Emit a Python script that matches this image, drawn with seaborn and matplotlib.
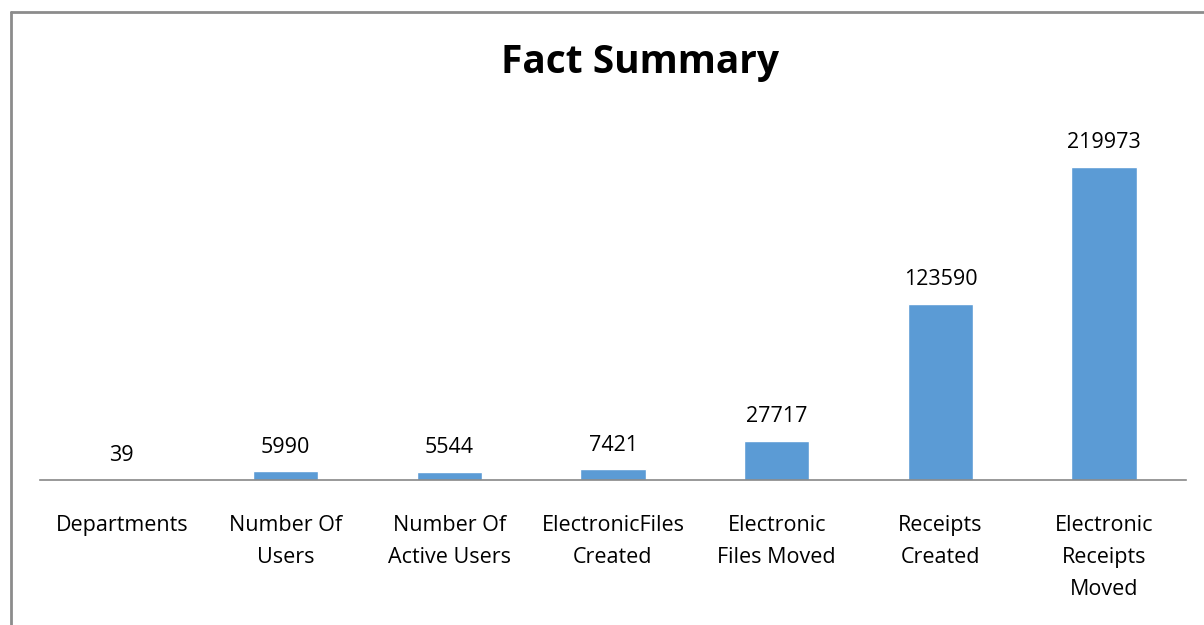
import matplotlib
matplotlib.use("Agg")
import matplotlib.pyplot as plt
import seaborn as sns
import pandas as pd
from matplotlib.lines import Line2D

categories = ["Departments", "Number Of\nUsers", "Number Of\nActive Users",
              "ElectronicFiles\nCreated", "Electronic\nFiles Moved",
              "Receipts\nCreated", "Electronic\nReceipts\nMoved"]
values = [39, 5990, 5544, 7421, 27717, 123590, 219973]

df = pd.DataFrame({"category": categories, "value": values})

sns.set_theme(style="white")
plt.rcParams['font.family'] = ['Open Sans', 'DejaVu Sans']

fig = plt.figure(figsize=(12.04, 6.25), dpi=100)
ax = fig.add_axes([40/1204, 145/625, 1146/1204, 370/625])

sns.barplot(data=df, x="category", y="value", color="#5B9BD5", width=0.4,
            saturation=1, ax=ax)
ax.set_ylim(0, 260000)
ax.set_xlim(-0.5, len(categories) - 0.5)
ax.set_xlabel("")
ax.set_ylabel("")
ax.set_yticks([])
for s in ["top", "left", "right"]:
    ax.spines[s].set_visible(False)
ax.spines["bottom"].set_color("#888888")
ax.spines["bottom"].set_linewidth(1.2)
ax.tick_params(axis="x", length=0, pad=25, labelsize=15.5, labelcolor="black")
for lbl in ax.get_xticklabels():
    lbl.set_linespacing(1.7)
    lbl.set_verticalalignment("top")

for p, v in zip(ax.patches, values):
    ax.annotate(str(v), (p.get_x() + p.get_width() / 2, p.get_height()),
                xytext=(0, 10), textcoords="offset points",
                ha="center", va="bottom", fontsize=15.5, color="black")

fig.text(640/1204, 1 - 62/625, "Fact Summary", ha="center", va="center",
         fontsize=28, fontweight="bold", color="black")

fig.add_artist(Line2D([11/1204, 11/1204], [0, 1 - 12/625], transform=fig.transFigure,
                      color="#8c8c8c", linewidth=2))
fig.add_artist(Line2D([11/1204, 1], [1 - 12/625, 1 - 12/625], transform=fig.transFigure,
                      color="#8c8c8c", linewidth=2))

fig.savefig("out.png", dpi=100)
